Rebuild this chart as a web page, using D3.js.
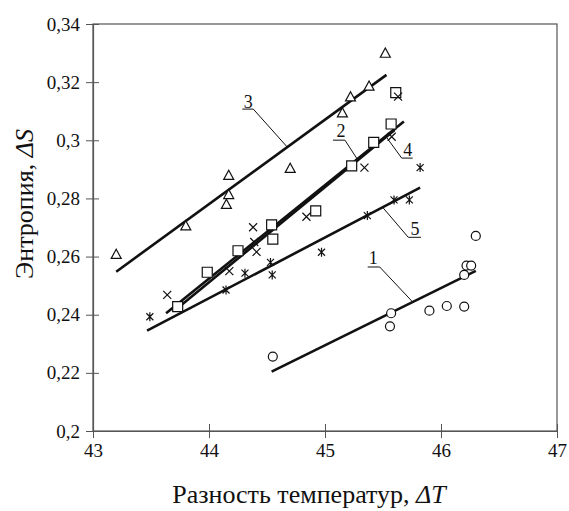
<!DOCTYPE html>
<html>
<head>
<meta charset="utf-8">
<script src="https://cdn.jsdelivr.net/npm/d3@7"></script>
<style>
    body { margin: 0; background: #fff; }
    svg text { font-family: "Liberation Serif", "Times New Roman", serif; fill: #111; }
</style>
</head>
<body>
<div id="chart"></div>
<script>
// ---- data ----
const xTicks = [43, 44, 45, 46, 47];
const yTicks = [0.2, 0.22, 0.24, 0.26, 0.28, 0.3, 0.32, 0.34];

// 1 - circles
const s1X = [44.55, 45.57, 45.56, 45.90, 46.05, 46.20, 46.20, 46.22, 46.26, 46.30];
const s1Y = [0.2256, 0.2405, 0.2360, 0.2414, 0.2430, 0.2428, 0.2537, 0.2569, 0.2569, 0.2671];
// 2 - squares
const s2X = [43.73, 43.985, 44.25, 44.54, 44.55, 44.92, 45.23, 45.42, 45.57, 45.61];
const s2Y = [0.2428, 0.2546, 0.2620, 0.2709, 0.2660, 0.2757, 0.2912, 0.2993, 0.3056, 0.3164];
// 3 - triangles
const s3X = [43.20, 43.80, 44.15, 44.17, 44.17, 44.70, 45.15, 45.22, 45.38, 45.52];
const s3Y = [0.2608, 0.2706, 0.2780, 0.2814, 0.2880, 0.2904, 0.3095, 0.3150, 0.3187, 0.3300];
// 4 - crosses
const s4X = [43.64, 44.175, 44.38, 44.39, 44.41, 44.84, 45.34, 45.575, 45.63];
const s4Y = [0.2468, 0.2550, 0.2701, 0.2650, 0.2616, 0.2737, 0.2906, 0.3012, 0.3150];
// 5 - asterisks
const s5X = [43.49, 44.147, 44.31, 44.53, 44.545, 44.97, 45.365, 45.595, 45.727, 45.82];
const s5Y = [0.2393, 0.2485, 0.2543, 0.2580, 0.2537, 0.2615, 0.2741, 0.2795, 0.2795, 0.2906];

// fitted lines: [x0, x1], [y0, y1]
const fit1X = [44.54, 46.30], fit1Y = [0.2204, 0.2551];
const fit2X = [43.72, 45.60], fit2Y = [0.2420, 0.3035];
const fit3X = [43.20, 45.53], fit3Y = [0.2548, 0.3225];
const fit4X = [43.63, 45.68], fit4Y = [0.2405, 0.3065];
const fit5X = [43.466, 45.82], fit5Y = [0.2345, 0.2837];

// line labels and where the leader touches the line (x value)
const labelNames = ["1", "2", "3", "4", "5"];
const labelAtX = [45.756, 45.284, 44.675, 45.523, 45.497];

// ---- layout ----
const W = 569, H = 511;
const margin = { top: 24, right: 12, bottom: 80, left: 93 };
const width = W - margin.left - margin.right;
const height = H - margin.top - margin.bottom;

// leader offsets from the point on the line: elbow, end, text (px)
const leaderGeom = [
    { elbow: [-33, -35], end: [-45, -35], text: [-39.5, -38] },
    { elbow: [-13, -20], end: [-25, -20], text: [-17, -23] },
    { elbow: [-34, -38], end: [-45, -38], text: [-39, -39.5] },
    { elbow: [16, 22], end: [27, 22], text: [22, 20] },
    { elbow: [25.6, 30], end: [38.3, 30], text: [32.3, 28] }
];

const svg = d3.select("#chart").append("svg")
    .attr("width", W)
    .attr("height", H);

const g = svg.append("g")
    .attr("transform", `translate(${margin.left},${margin.top})`);

const x = d3.scaleLinear().domain([43, 47]).range([0, width]);
const y = d3.scaleLinear().domain([0.2, 0.34]).range([height, 0]);

const fmt = d => String(+d.toFixed(2)).replace(".", ",");
const serif = '"Liberation Serif", "Times New Roman", serif';

// frame
g.append("rect")
    .attr("width", width)
    .attr("height", height)
    .attr("fill", "none")
    .attr("stroke", "#555")
    .attr("stroke-width", 1.2);

const xAxis = g.append("g")
    .attr("transform", `translate(0,${height})`)
    .call(d3.axisBottom(x).tickValues(xTicks).tickFormat(d => d).tickSizeOuter(0));
xAxis.selectAll(".tick line").attr("y1", -7).attr("y2", 7).attr("stroke", "#555");
xAxis.selectAll(".tick text").attr("y", 13).attr("font-size", 19);

const yAxis = g.append("g")
    .call(d3.axisLeft(y).tickValues(yTicks).tickFormat(fmt).tickSizeOuter(0));
yAxis.selectAll(".tick line").attr("x1", 6).attr("x2", -7).attr("stroke", "#555");
yAxis.selectAll(".tick text").attr("x", -13).attr("font-size", 19);

[xAxis, yAxis].forEach(a => {
    a.select(".domain").attr("stroke", "#555").attr("stroke-width", 1.2);
    a.attr("font-family", serif);
    a.selectAll("text").attr("font-family", serif).attr("fill", "#111");
});

// fitted lines
const fits = [[fit1X, fit1Y], [fit2X, fit2Y], [fit3X, fit3Y], [fit4X, fit4Y], [fit5X, fit5Y]];
const lineGen = d3.line().x(d => x(d[0])).y(d => y(d[1]));

g.selectAll(".fit")
    .data(fits)
    .enter().append("path")
    .attr("class", "fit")
    .attr("fill", "none")
    .attr("stroke", "#111")
    .attr("stroke-width", 2.6)
    .attr("d", f => lineGen(d3.zip(f[0], f[1])));

// leaders + labels
labelNames.forEach((name, i) => {
    const f = fits[i];
    const t = (labelAtX[i] - f[0][0]) / (f[0][1] - f[0][0]);
    const px = x(labelAtX[i]);
    const py = y(f[1][0] + t * (f[1][1] - f[1][0]));
    const lg = leaderGeom[i];
    g.append("polyline")
        .attr("points", [[px, py], [px + lg.elbow[0], py + lg.elbow[1]], [px + lg.end[0], py + lg.end[1]]].join(" "))
        .attr("fill", "none")
        .attr("stroke", "#111")
        .attr("stroke-width", 1);
    g.append("text")
        .attr("x", px + lg.text[0])
        .attr("y", py + lg.text[1])
        .attr("text-anchor", "middle")
        .attr("font-size", 18)
        .text(name);
});

// markers
const triPath = "M0,-5L5,4.2L-5,4.2Z";
const sqPath = "M-5,-5H5V5H-5Z";
const crossPath = "M-4,-4L4,4M-4,4L4,-4";
const starPath = "M-3.5,-3.5L3.5,3.5M-3.5,3.5L3.5,-3.5M0,-4.5V4.5";
const circPath = d3.symbol(d3.symbolCircle, Math.PI * 4.5 * 4.5)();

const series = [
    { xs: s1X, ys: s1Y, path: circPath },
    { xs: s2X, ys: s2Y, path: sqPath },
    { xs: s3X, ys: s3Y, path: triPath },
    { xs: s4X, ys: s4Y, path: crossPath },
    { xs: s5X, ys: s5Y, path: starPath }
];

series.forEach(s => {
    g.selectAll(null)
        .data(d3.zip(s.xs, s.ys))
        .enter().append("path")
        .attr("d", s.path)
        .attr("transform", d => `translate(${x(d[0])},${y(d[1])})`)
        .attr("fill", "#fff")
        .attr("stroke", "#111")
        .attr("stroke-width", 1.2);
});

// axis titles
svg.append("text")
    .attr("x", 309)
    .attr("y", 503)
    .attr("text-anchor", "middle")
    .attr("font-size", 26)
    .html('Разность температур, <tspan font-style="italic">ΔT</tspan>');

svg.append("text")
    .attr("transform", "translate(33,204) rotate(-90)")
    .attr("text-anchor", "middle")
    .attr("font-size", 26)
    .html('Энтропия, <tspan font-style="italic">ΔS</tspan>');
</script>
</body>
</html>
